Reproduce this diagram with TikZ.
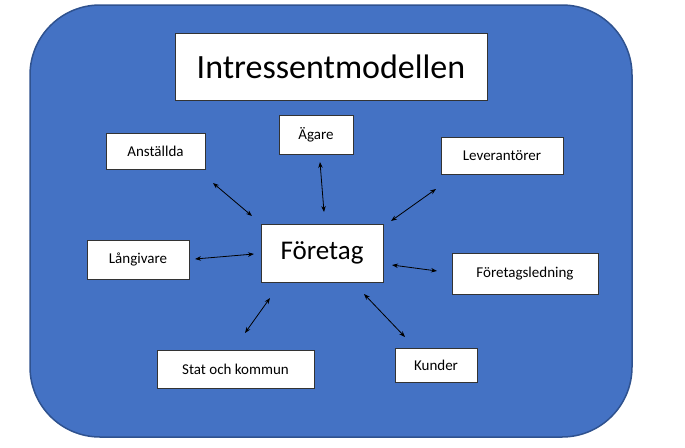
\documentclass[tikz,border=0pt]{standalone}
\usepackage{fontspec}
\setmainfont{Carlito}
\usetikzlibrary{arrows.meta}
\definecolor{bgblue}{HTML}{4472C4}
\definecolor{bdblue}{HTML}{2F528F}
\tikzset{
  lbl/.style={draw=black!80, fill=white, line width=0.8pt, inner sep=0pt, font=\fontsize{15}{17}\selectfont},
  conn/.style={{Stealth[length=6pt,width=4.5pt]}-{Stealth[length=6pt,width=4.5pt]}, line width=0.8pt}
}
\begin{document}
\begin{tikzpicture}[x=1pt,y=-1pt]
\useasboundingbox (0,0) rectangle (685,447);
\draw[fill=bgblue, draw=bdblue, line width=1.5pt, rounded corners=70pt] (30,5) rectangle (632,437);
\node[lbl, minimum width=312pt, minimum height=67pt, font=\fontsize{34}{40}\selectfont] (title) at (331,66.5) {Intressentmodellen};
\node[lbl, minimum width=74pt, minimum height=39pt] (agare) at (316,134.5) {Ägare};
\node[lbl, minimum width=99pt, minimum height=36pt] (anst) at (155.5,151) {Anställda};
\node[lbl, minimum width=122pt, minimum height=37pt] (lev) at (502,155.5) {Leverantörer};
\node[lbl, minimum width=122pt, minimum height=58pt, font=\fontsize{27}{32}\selectfont] (ftg) at (322,253) {Företag};
\node[lbl, minimum width=102pt, minimum height=39pt] (lang) at (138,259.5) {Långivare};
\node[lbl, minimum width=146pt, minimum height=41pt] (fl) at (525,273.5) {Företagsledning};
\node[lbl, minimum width=157pt, minimum height=38pt] (stat) at (235.5,369) {Stat och kommun};
\node[lbl, minimum width=82pt, minimum height=34pt] (kund) at (436,365) {Kunder};
\coordinate (a1) at (320,162); \coordinate (a2) at (324,212);
\coordinate (b1) at (213,183); \coordinate (b2) at (252,216);
\coordinate (c1) at (436,189); \coordinate (c2) at (391,221);
\coordinate (d1) at (195,259); \coordinate (d2) at (254,254);
\coordinate (e1) at (392,265); \coordinate (e2) at (437,271);
\coordinate (f1) at (245,333); \coordinate (f2) at (270,298);
\coordinate (g1) at (364,294); \coordinate (g2) at (405,337);
\draw[conn] (a1) -- (a2);
\draw[conn] (b1) -- (b2);
\draw[conn] (c1) -- (c2);
\draw[conn] (d1) -- (d2);
\draw[conn] (e1) -- (e2);
\draw[conn] (f1) -- (f2);
\draw[conn] (g1) -- (g2);
\end{tikzpicture}
\end{document}
